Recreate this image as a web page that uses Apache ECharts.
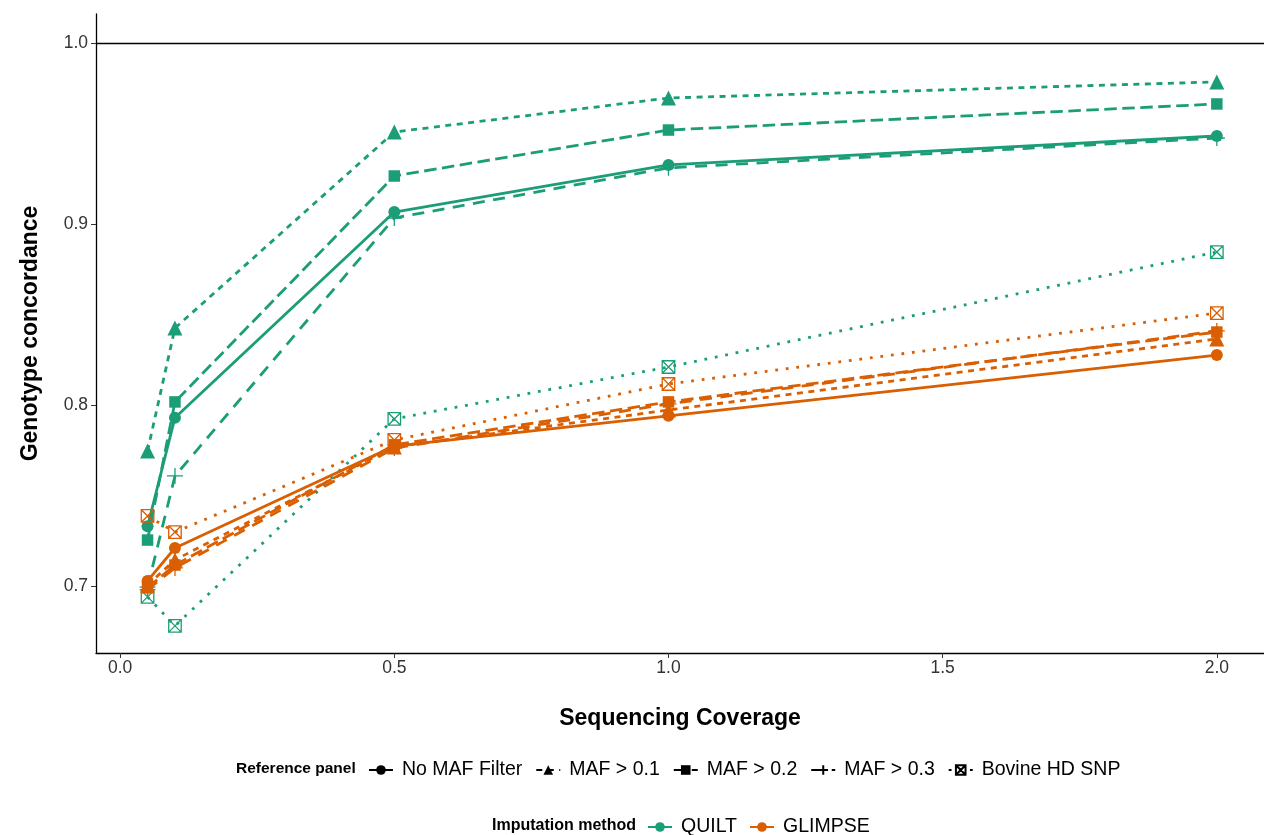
<!DOCTYPE html>
<html>
<head>
<meta charset="utf-8">
<script src="https://cdn.jsdelivr.net/npm/echarts@6/dist/echarts.min.js"></script>
<style>
html, body { margin: 0; background: #fff; }
#chart { width: 1264px; height: 835px; }
</style>
</head>
<body>
<div id="chart"></div>
<script>
// x values (sequencing coverage)
const coverage = [0.05, 0.1, 0.5, 1.0, 2.0]
const panels = ['No MAF Filter', 'MAF > 0.1', 'MAF > 0.2', 'MAF > 0.3', 'Bovine HD SNP']
const methods = ['QUILT', 'GLIMPSE']
const xTicks = [0, 0.5, 1.0, 1.5, 2.0]
const yTicks = [0.7, 0.8, 0.9, 1.0]

// genotype concordance
const quiltNoMaf = [0.733, 0.793, 0.9066, 0.9326, 0.9486]
const quiltMaf01 = [0.7746, 0.8425, 0.9508, 0.9696, 0.9785]
const quiltMaf02 = [0.7254, 0.8017, 0.9265, 0.9519, 0.9663]
const quiltMaf03 = [0.6994, 0.7608, 0.9033, 0.931, 0.9475]
const quiltBovine = [0.694, 0.678, 0.7923, 0.821, 0.8845]
const glimpseNoMaf = [0.7028, 0.721, 0.7773, 0.794, 0.8276]
const glimpseMaf01 = [0.7006, 0.7144, 0.7768, 0.7972, 0.8365]
const glimpseMaf02 = [0.699, 0.7116, 0.778, 0.8017, 0.8403]
const glimpseMaf03 = [0.698, 0.71, 0.7762, 0.8006, 0.8409]
const glimpseBovine = [0.7387, 0.7298, 0.7807, 0.8116, 0.8508]

const values = {
    QUILT: [quiltNoMaf, quiltMaf01, quiltMaf02, quiltMaf03, quiltBovine],
    GLIMPSE: [glimpseNoMaf, glimpseMaf01, glimpseMaf02, glimpseMaf03, glimpseBovine]
}
const colors = { QUILT: '#1b9e77', GLIMPSE: '#d95f02' }

const LW = 2.8
const FONT = 'Liberation Sans'
// ggplot style symbols / linetypes per reference panel
const styles = [
    { symbol: 'circle', size: 12, dash: 'solid', hollow: false },
    { symbol: 'triangle', size: 15, dash: [6, 5.5], hollow: false },
    { symbol: 'rect', size: 11.5, dash: [12.5, 5.5], hollow: false },
    { symbol: 'path://M5,0L5,10M0,5L10,5', size: 16, dash: [12, 8.5], hollow: true },
    { symbol: 'path://M0,0L10,0L10,10L0,10ZM0,0L10,10M10,0L0,10', size: 12.5, dash: [2.8, 7.8], hollow: true }
]

function itemStyleFor(st, col) {
    if (st.hollow) {
        return { color: 'transparent', borderColor: col, borderWidth: 1.3 }
    }
    return { color: col, borderWidth: 0 }
}

const series = []
methods.forEach(function(m) {
    panels.forEach(function(p, i) {
        const st = styles[i]
        series.push({
            name: m + ' ' + p,
            type: 'line',
            data: coverage.map(function(x, j) { return [x, values[m][i][j]] }),
            symbol: st.symbol,
            symbolSize: st.size,
            showAllSymbol: true,
            lineStyle: { color: colors[m], width: LW, type: st.dash },
            itemStyle: itemStyleFor(st, colors[m]),
            emphasis: { disabled: true },
            silent: true
        })
    })
})

// horizontal reference line at 1.0
series[0].markLine = {
    silent: true,
    symbol: 'none',
    label: { show: false },
    lineStyle: { color: '#000', width: 1.3, type: 'solid' },
    data: [{ yAxis: 1.0 }]
}

// legend-only series
panels.forEach(function(p, i) {
    const st = styles[i]
    series.push({
        name: p,
        type: 'line',
        data: [],
        symbol: st.symbol,
        symbolSize: st.size,
        lineStyle: { color: '#000', width: LW, type: st.dash },
        itemStyle: itemStyleFor(st, '#000')
    })
})
methods.forEach(function(m) {
    series.push({
        name: m,
        type: 'line',
        data: [],
        symbol: 'circle',
        symbolSize: 12,
        lineStyle: { color: colors[m], width: LW },
        itemStyle: { color: colors[m] }
    })
})

let myChart = echarts.init(document.getElementById('chart'))
myChart.setOption({
    animation: false,
    backgroundColor: '#fff',
    grid: { left: 96, right: 0, top: 14, bottom: 182 },
    xAxis: {
        type: 'value',
        min: -0.044,
        max: 2.086,
        name: 'Sequencing Coverage',
        nameLocation: 'middle',
        nameGap: 54,
        nameMoveOverlap: false,
        nameTextStyle: { fontSize: 23, fontWeight: 'bold', color: '#000', fontFamily: FONT },
        axisLine: { onZero: false, lineStyle: { color: '#000', width: 1.3 } },
        axisTick: { show: true, length: 5, lineStyle: { color: '#333' }, customValues: xTicks },
        axisLabel: {
            customValues: xTicks,
            formatter: function(v) { return v.toFixed(1) },
            fontSize: 17.5,
            color: '#333',
            margin: 6,
            fontFamily: FONT
        },
        splitLine: { show: false }
    },
    yAxis: {
        type: 'value',
        min: 0.663,
        max: 1.016,
        name: 'Genotype concordance',
        nameLocation: 'middle',
        nameGap: 54,
        nameMoveOverlap: false,
        nameTextStyle: { fontSize: 23, fontWeight: 'bold', color: '#000', fontFamily: FONT },
        axisLine: { show: true, onZero: false, lineStyle: { color: '#000', width: 1.3 } },
        axisTick: { show: true, length: 5, lineStyle: { color: '#333' }, customValues: yTicks },
        axisLabel: {
            customValues: yTicks,
            formatter: function(v) { return v.toFixed(1) },
            fontSize: 17.5,
            color: '#333',
            margin: 8,
            fontFamily: FONT
        },
        splitLine: { show: false }
    },
    legend: [
        {
            data: panels,
            left: 363,
            top: 755,
            itemWidth: 24,
            itemHeight: 12,
            itemGap: 13,
            selectedMode: false,
            textStyle: { fontSize: 19.5, color: '#000', fontFamily: FONT, padding: [0, 0, 0, 4] }
        },
        {
            data: methods,
            left: 642,
            top: 812,
            itemWidth: 24,
            itemHeight: 12,
            itemGap: 12,
            selectedMode: false,
            textStyle: { fontSize: 19.5, color: '#000', fontFamily: FONT, padding: [0, 0, 0, 4] }
        }
    ],
    graphic: [
        {
            type: 'text',
            x: 236,
            y: 769,
            style: { text: 'Reference panel', font: 'bold 15.5px "Liberation Sans"', fill: '#000', verticalAlign: 'middle' }
        },
        {
            type: 'text',
            x: 492,
            y: 826,
            style: { text: 'Imputation method', font: 'bold 16px "Liberation Sans"', fill: '#000', verticalAlign: 'middle' }
        }
    ],
    series: series
})
window.addEventListener('resize', function() {
    myChart.resize()
})
</script>
</body>
</html>
